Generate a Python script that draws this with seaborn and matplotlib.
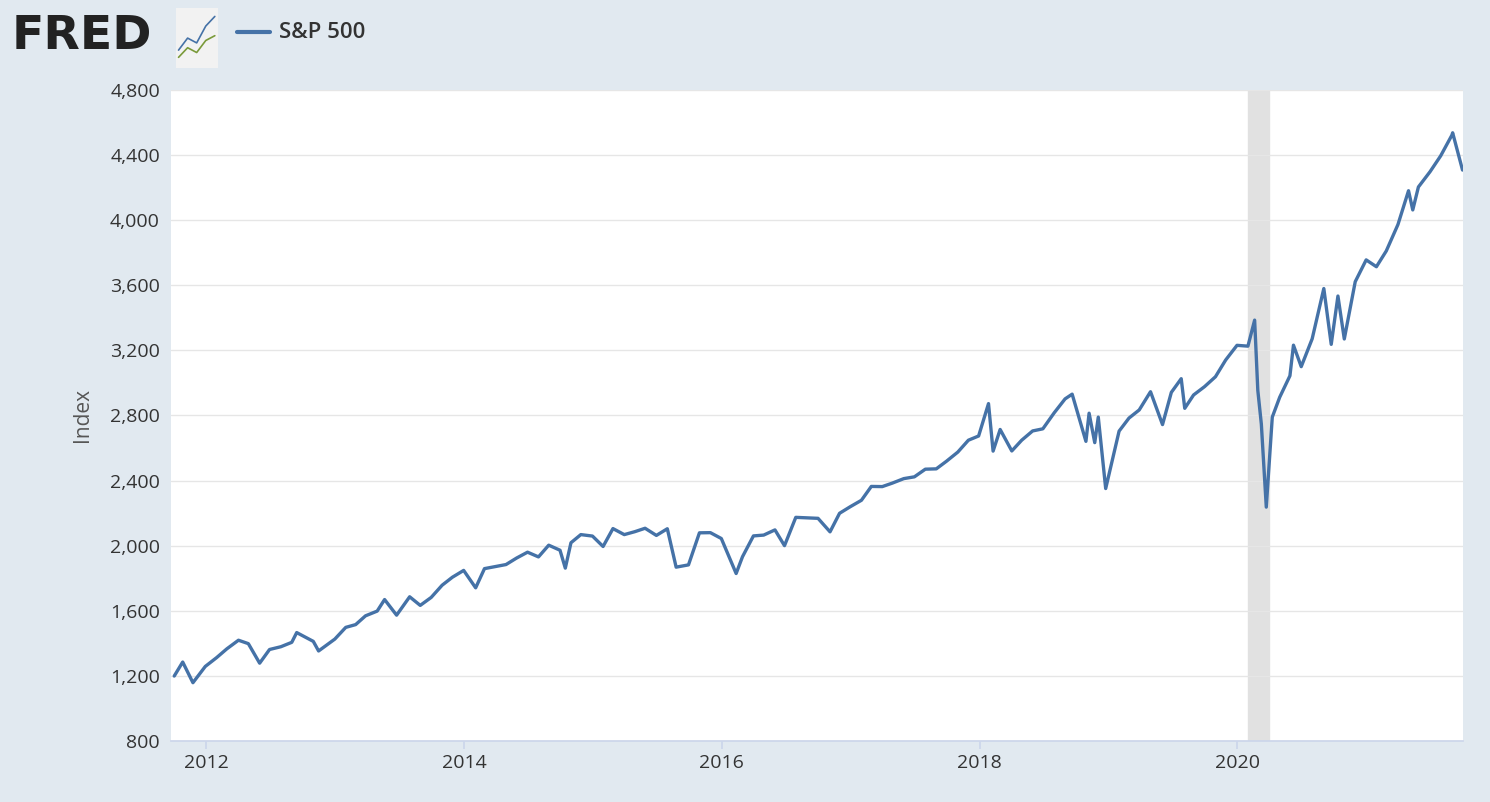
import matplotlib
matplotlib.use("Agg")
import matplotlib.pyplot as plt
import matplotlib.dates as mdates
import seaborn as sns
import pandas as pd

dates = ["2011-10-03","2011-10-27","2011-11-25","2011-12-30",
"2012-01-31","2012-02-29","2012-04-02","2012-04-30","2012-06-01","2012-06-29","2012-07-31","2012-08-31","2012-09-14","2012-10-31","2012-11-15","2012-12-31",
"2013-01-31","2013-02-28","2013-03-28","2013-04-30","2013-05-21","2013-06-24","2013-07-31","2013-08-30","2013-09-30","2013-10-31","2013-11-29","2013-12-31",
"2014-02-03","2014-02-28","2014-03-31","2014-04-30","2014-05-30","2014-06-30","2014-07-31","2014-08-29","2014-09-30","2014-10-15","2014-10-31","2014-11-28","2014-12-31",
"2015-01-30","2015-02-27","2015-03-31","2015-04-30","2015-05-29","2015-06-30","2015-07-31","2015-08-25","2015-09-29","2015-10-30","2015-11-30","2015-12-31",
"2016-02-11","2016-02-29","2016-03-31","2016-04-29","2016-05-31","2016-06-27","2016-07-29","2016-08-31","2016-09-30","2016-11-03","2016-11-30","2016-12-30",
"2017-01-31","2017-02-28","2017-03-31","2017-04-28","2017-05-31","2017-06-30","2017-07-31","2017-08-31","2017-09-29","2017-10-31","2017-11-30","2017-12-29",
"2018-01-26","2018-02-08","2018-02-28","2018-04-02","2018-04-30","2018-05-31","2018-06-29","2018-07-31","2018-08-31","2018-09-20","2018-10-29","2018-11-07","2018-11-23","2018-12-03","2018-12-24",
"2019-01-31","2019-02-28","2019-03-29","2019-04-30","2019-06-03","2019-06-28","2019-07-26","2019-08-05","2019-08-30","2019-09-30","2019-10-31","2019-11-29","2019-12-31",
"2020-01-31","2020-02-19","2020-02-28","2020-03-09","2020-03-23","2020-04-09","2020-04-30","2020-05-29","2020-06-08","2020-06-30","2020-07-31","2020-09-02","2020-09-23","2020-10-12","2020-10-30","2020-11-30","2020-12-31",
"2021-01-29","2021-02-26","2021-03-31","2021-04-30","2021-05-12","2021-05-28","2021-06-30","2021-07-30","2021-08-31","2021-09-02","2021-09-30"]
values = [1199,1285,1158,1258,
1312,1366,1419,1398,1278,1362,1379,1406,1466,1412,1353,1426,
1498,1515,1569,1598,1669,1573,1686,1633,1682,1757,1806,1848,
1741,1859,1872,1884,1924,1960,1931,2003,1972,1862,2018,2068,2059,
1995,2105,2068,2086,2107,2063,2104,1868,1882,2079,2080,2044,
1829,1932,2060,2065,2097,2000,2174,2171,2168,2085,2199,2239,
2279,2364,2363,2384,2412,2423,2470,2472,2519,2575,2648,2674,
2873,2581,2714,2582,2648,2705,2718,2816,2902,2931,2641,2814,2633,2790,2351,
2704,2784,2834,2946,2744,2942,3026,2844,2926,2977,3038,3141,3231,
3226,3386,2954,2747,2237,2790,2912,3044,3232,3100,3271,3580,3237,3534,3270,3622,3756,
3714,3811,3973,4181,4063,4204,4298,4395,4523,4537,4308]

df = pd.DataFrame({"date": pd.to_datetime(dates), "value": values})

sns.set_theme(style="white")
plt.rcParams['font.family'] = ['Open Sans', 'DejaVu Sans']
bg = "#e1e9f0"
fig = plt.figure(figsize=(14.9, 8.02), dpi=100, facecolor=bg)
ax = fig.add_axes([0.1148, 0.0761, 0.867, 0.8117])
ax.set_facecolor("white")
ax.axvspan(pd.Timestamp("2020-02-01"), pd.Timestamp("2020-04-01"), color="#e1e1e1", zorder=0)
sns.lineplot(data=df, x="date", y="value", ax=ax, color="#4572a7", linewidth=2.4, zorder=3)

ax.set_xlim(pd.Timestamp("2011-09-24"), pd.Timestamp("2021-10-01"))
ax.set_ylim(800, 4800)
yt = list(range(800, 4801, 400))
ax.set_yticks(yt)
ax.set_yticklabels([f"{v:,}" for v in yt], fontsize=14, color="#333333")
ax.set_xticks([pd.Timestamp(f"{y}-01-01") for y in range(2012, 2022, 2)])
ax.xaxis.set_major_formatter(mdates.DateFormatter("%Y"))
ax.tick_params(axis="x", labelsize=14, colors="#333333", length=6, color="#ccd6eb", direction="out", bottom=True)
ax.tick_params(axis="y", length=0, pad=8)
ax.grid(axis="y", color="#e6e6e6", linewidth=1)
for s in ["top", "right", "left"]:
    ax.spines[s].set_visible(False)
ax.spines["bottom"].set_color("#ccd6eb")
ax.set_xlabel("")
ax.set_ylabel("Index", fontsize=15, color="#555555", labelpad=12)

fig.text(0.008, 0.955, "FRED", fontsize=34, fontweight="black", color="#222222", va="center", family="DejaVu Sans")
# small logo icon
icon = fig.add_axes([0.118, 0.915, 0.028, 0.075])
icon.set_facecolor("#f2f2f2")
icon.set_xticks([]); icon.set_yticks([])
for s in icon.spines.values():
    s.set_visible(False)
icon.plot([0, 1, 2, 3, 4], [1, 2, 1.6, 3, 3.8], color="#4572a7", lw=1.2)
icon.plot([0, 1, 2, 3, 4], [0.4, 1.2, 0.8, 1.8, 2.2], color="#7a9a3a", lw=1.2)
icon.set_xlim(-0.3, 4.3); icon.set_ylim(-0.5, 4.5)
fig.lines.append(plt.Line2D([0.159, 0.181], [0.96, 0.96], transform=fig.transFigure, color="#4572a7", linewidth=3))
fig.text(0.187, 0.96, "S&P 500", fontsize=16, color="#333333", va="center", fontweight="semibold")

fig.savefig("out.png", dpi=100, facecolor=bg)
